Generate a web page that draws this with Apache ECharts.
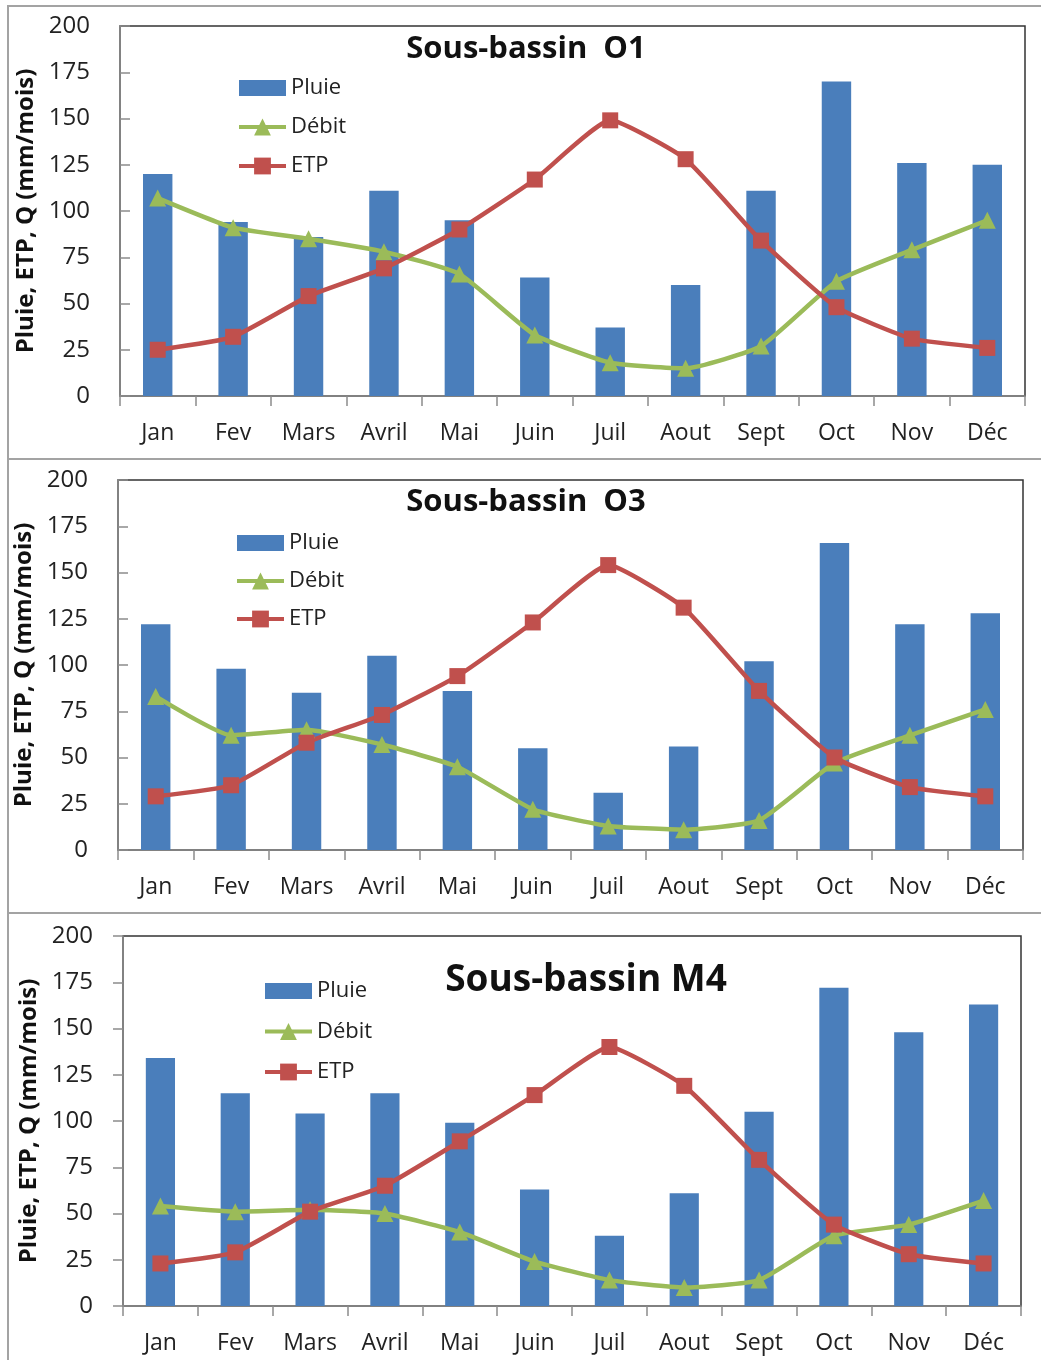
<!DOCTYPE html>
<html>
<head>
<meta charset="utf-8">
<script src="https://cdn.jsdelivr.net/npm/echarts@6/dist/echarts.min.js"></script>
<style>
  body { margin: 0; width: 1041px; height: 1360px; overflow: hidden; background: #fff; position: relative; }
  .frame { position: absolute; left: 7px; width: 1060px; border: 2px solid #a3a3a3; box-sizing: border-box; }
  .chart { position: absolute; left: 0; width: 1041px; }
</style>
</head>
<body>
<div class="frame" style="top:5px;height:455px;"></div>
<div class="frame" style="top:458px;height:456px;"></div>
<div class="frame" style="top:912px;height:470px;"></div>
<div id="c1" class="chart" style="top:5px;height:453px;"></div>
<div id="c2" class="chart" style="top:458px;height:454px;"></div>
<div id="c3" class="chart" style="top:912px;height:448px;"></div>
<script>
// mois
var months = ['Jan', 'Fev', 'Mars', 'Avril', 'Mai', 'Juin', 'Juil', 'Aout', 'Sept', 'Oct', 'Nov', 'Déc'];

// Sous-bassin O1
var pluieO1 = [120, 94, 86, 111, 95, 64, 37, 60, 111, 170, 126, 125];
var debitO1 = [107, 91, 85, 78, 66, 33, 18, 15, 27, 62, 79, 95];
var etpO1 = [25, 32, 54, 69, 90, 117, 149, 128, 84, 48, 31, 26];

// Sous-bassin O3
var pluieO3 = [122, 98, 85, 105, 86, 55, 31, 56, 102, 166, 122, 128];
var debitO3 = [83, 62, 65, 57, 45, 22, 13, 11, 16, 47, 62, 76];
var etpO3 = [29, 35, 58, 73, 94, 123, 154, 131, 86, 50, 34, 29];

// Sous-bassin M4
var pluieM4 = [134, 115, 104, 115, 99, 63, 38, 61, 105, 172, 148, 163];
var debitM4 = [54, 51, 52, 50, 40, 24, 14, 10, 14, 38, 44, 57];
var etpM4 = [23, 29, 51, 65, 89, 114, 140, 119, 79, 44, 28, 23];

// axe Y
var yMin = 0, yMax = 200, yStep = 25;

var FONT = '"Open Sans", sans-serif';

function drawPanel(domId, p) {
	var myChart = echarts.init(document.getElementById(domId), null, {renderer: 'canvas'});
	var option = {
		animation: false,
		textStyle: {fontFamily: FONT},
		title: {
			text: p.title,
			left: p.titleX,
			top: p.titleTop,
			textAlign: 'center',
			textStyle: {fontFamily: FONT, fontSize: p.titleSize, fontWeight: 'bold', color: '#111', lineHeight: p.titleSize}
		},
		legend: {
			orient: 'vertical',
			left: p.legendLeft,
			top: p.legendTop,
			itemWidth: 47,
			itemHeight: 21,
			itemGap: p.legendGap,
			symbolKeepAspect: true,
			lineStyle: {width: 4},
			textStyle: {fontFamily: FONT, fontSize: 22, color: '#222', lineHeight: 22},
			// rectangle 47x16 pour la pluie
			data: [{name: 'Pluie', icon: 'path://M0,0L47,0L47,16L0,16Z'}, 'Débit', 'ETP']
		},
		grid: {
			left: p.left, right: p.right, top: p.top, height: 370,
			show: true, borderColor: '#333', borderWidth: 1.5, backgroundColor: 'transparent'
		},
		xAxis: {
			type: 'category',
			data: months,
			axisLine: {lineStyle: {color: '#8c8c8c', width: 1.5}},
			axisTick: {show: true, length: 10, lineStyle: {color: '#8c8c8c', width: 1.5}},
			axisLabel: {fontFamily: FONT, fontSize: 23, color: '#222', margin: 26}
		},
		yAxis: {
			type: 'value',
			min: yMin, max: yMax, interval: yStep,
			name: 'Pluie, ETP, Q (mm/mois)',
			nameLocation: 'middle',
			nameGap: p.nameGap,
			nameTextStyle: {fontFamily: FONT, fontSize: 24, fontWeight: 'bold', color: '#111', lineHeight: 24},
			splitLine: {show: false},
			axisLine: {show: true, lineStyle: {color: '#8c8c8c', width: 1.5}},
			axisTick: {show: true, inside: p.tickInside, length: 10, lineStyle: {color: '#8c8c8c', width: 1.5}},
			axisLabel: {fontFamily: FONT, fontSize: 24, color: '#222', margin: p.labelMargin}
		},
		series: [
			{
				name: 'Pluie',
				type: 'bar',
				barWidth: '39%',
				itemStyle: {color: '#4a7ebb'},
				data: p.pluie
			},
			{
				name: 'Débit',
				type: 'line',
				smooth: 0.15,
				symbol: 'triangle',
				symbolSize: 17,
				lineStyle: {color: '#9bbb59', width: 4.5},
				itemStyle: {color: '#9bbb59'},
				data: p.debit
			},
			{
				name: 'ETP',
				type: 'line',
				smooth: 0.15,
				symbol: 'rect',
				symbolSize: 16,
				lineStyle: {color: '#c0504d', width: 4.5},
				itemStyle: {color: '#c0504d'},
				data: p.etp
			}
		]
	};
	myChart.setOption(option);
}

drawPanel('c1', {
	title: 'Sous-bassin  O1', titleX: 521, titleTop: 24, titleSize: 31,
	legendLeft: 232, legendTop: 67, legendGap: 17,
	left: 120, right: 16, top: 21, tickInside: true, labelMargin: 30, nameGap: 76,
	pluie: pluieO1, debit: debitO1, etp: etpO1
});
drawPanel('c2', {
	title: 'Sous-bassin  O3', titleX: 521, titleTop: 24, titleSize: 31,
	legendLeft: 230, legendTop: 69, legendGap: 16,
	left: 118, right: 18, top: 22, tickInside: true, labelMargin: 30, nameGap: 76,
	pluie: pluieO3, debit: debitO3, etp: etpO3
});
drawPanel('c3', {
	title: 'Sous-bassin M4', titleX: 581, titleTop: 45, titleSize: 37,
	legendLeft: 258, legendTop: 63, legendGap: 18.5,
	left: 123, right: 20, top: 24, tickInside: false, labelMargin: 30, nameGap: 81,
	pluie: pluieM4, debit: debitM4, etp: etpM4
});
</script>
</body>
</html>
